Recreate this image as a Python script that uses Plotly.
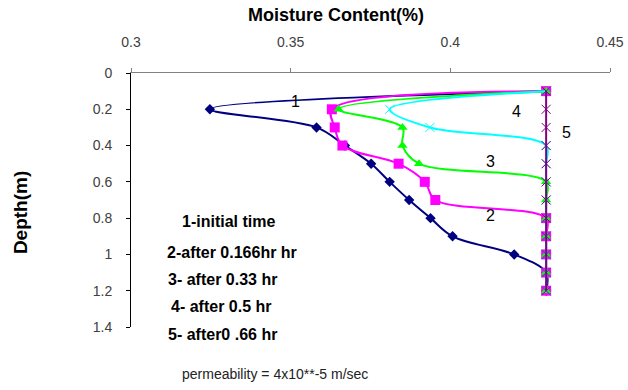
import plotly.graph_objects as go

depth = [0.1, 0.2, 0.3, 0.4, 0.5, 0.6, 0.7, 0.8, 0.9, 1.0, 1.1, 1.2]
mc_initial = [0.43, 0.3247, 0.3581, 0.367, 0.3752, 0.381, 0.3871, 0.3938, 0.4007, 0.420, 0.43, 0.43]
mc_0166 = [0.43, 0.3629, 0.3638, 0.3662, 0.3838, 0.392, 0.3953, 0.43, 0.43, 0.43, 0.43, 0.43]
mc_033 = [0.43, 0.365, 0.385, 0.385, 0.3902, 0.43, 0.43, 0.43, 0.43, 0.43, 0.43, 0.43]
mc_05 = [0.43, 0.381, 0.3936, 0.43, 0.43, 0.43, 0.43, 0.43, 0.43, 0.43, 0.43, 0.43]
mc_066 = [0.43] * 12

x_ticks = [0.3, 0.35, 0.4, 0.45]
x_tick_text = ["0.3", "0.35", "0.4", "0.45"]
y_ticks = [0, 0.2, 0.4, 0.6, 0.8, 1.0, 1.2, 1.4]
y_tick_text = ["0", "0.2", "0.4", "0.6", "0.8", "1", "1.2", "1.4"]

curve_labels = ["1", "2", "3", "4", "5"]
legend_notes = ["1-initial time", "2-after 0.166hr hr", "3- after 0.33 hr",
                "4- after 0.5 hr", "5- after0 .66 hr"]
note_text = "permeability = 4x10**-5 m/sec"
x_title = "Moisture Content(%)"
y_title = "Depth(m)"

W, H = 628, 390
L, R, T, B = 131, 17.5, 73, 63
PW, PH = W - L - R, H - T - B


def px(xp, yp):
    return (xp - L) / PW, (H - B - yp) / PH


curve_label_pos = [(296, 101), (491, 215), (491, 161), (517, 112), (567, 132)]
note_pos = [(182, 221), (167, 252), (168, 279), (171, 306), (168, 334)]

series = [
    (mc_initial, "#000080", dict(symbol="diamond", size=8, color="#000080")),
    (mc_0166, "#FF00FF", dict(symbol="square", size=10, color="#FF00FF")),
    (mc_033, "#00FF00", dict(symbol="triangle-up", size=9, color="#00FF00")),
    (mc_05, "#00FFFF", dict(symbol="x-thin-open", size=9, color="#00FFFF", line=dict(width=1, color="#00FFFF"))),
    (mc_066, "#800080", dict(symbol="x-thin-open", size=9, color="#800080", line=dict(width=1, color="#800080"))),
]

fig = go.Figure()
for xs, col, mk in series:
    fig.add_trace(go.Scatter(x=xs, y=depth, mode="lines+markers",
                             line=dict(color=col, width=2, shape="spline", smoothing=1),
                             marker=mk, showlegend=False, cliponaxis=False))

fig.update_layout(
    width=W, height=H,
    margin=dict(l=L, r=R, t=T, b=B, autoexpand=False),
    plot_bgcolor="white", paper_bgcolor="white",
    font=dict(family="Liberation Sans, Arial", size=12, color="#333"),
    xaxis=dict(side="top", range=[0.3, 0.45], tickvals=x_ticks, ticktext=x_tick_text,
               showgrid=False, zeroline=False, showline=True, linecolor="#808080", linewidth=1,
               ticks="outside", ticklen=4, tickcolor="#808080", ticklabelstandoff=15,
               automargin=False, tickfont=dict(size=14, color="#404040")),
    yaxis=dict(range=[1.4, 0], tickvals=y_ticks, ticktext=y_tick_text,
               showgrid=False, zeroline=False, showline=True, linecolor="#000", linewidth=1,
               ticks="outside", ticklen=4, tickcolor="#000", ticklabelstandoff=11,
               automargin=False, tickfont=dict(size=14, color="#404040")),
)

for t, (xp, yp) in zip(curve_labels, curve_label_pos):
    x, y = px(xp, yp)
    fig.add_annotation(x=x, y=y, xref="paper", yref="paper", text=t, showarrow=False,
                       xanchor="center", yanchor="middle",
                       font=dict(size=16, color="#000"))
for t, (xp, yp) in zip(legend_notes, note_pos):
    x, y = px(xp, yp)
    fig.add_annotation(x=x, y=y, xref="paper", yref="paper", text="<b>" + t + "</b>",
                       showarrow=False, xanchor="left", yanchor="middle", xshift=-2,
                       font=dict(size=16, color="#000"))
x, y = px(182, 374)
fig.add_annotation(x=x, y=y, xref="paper", yref="paper", text=note_text, showarrow=False,
                   xanchor="left", yanchor="middle", xshift=-2, font=dict(size=14, color="#222"))
x, y = px(336, 15)
fig.add_annotation(x=x, y=y, xref="paper", yref="paper", text="<b>" + x_title + "</b>",
                   showarrow=False, xanchor="center", yanchor="middle",
                   font=dict(size=18, color="#000"))
x, y = px(20, 213)
fig.add_annotation(x=x, y=y, xref="paper", yref="paper", text="<b>" + y_title + "</b>",
                   showarrow=False, textangle=-90, xanchor="center", yanchor="middle",
                   font=dict(size=19, color="#000"))

fig.write_html("out.html")
